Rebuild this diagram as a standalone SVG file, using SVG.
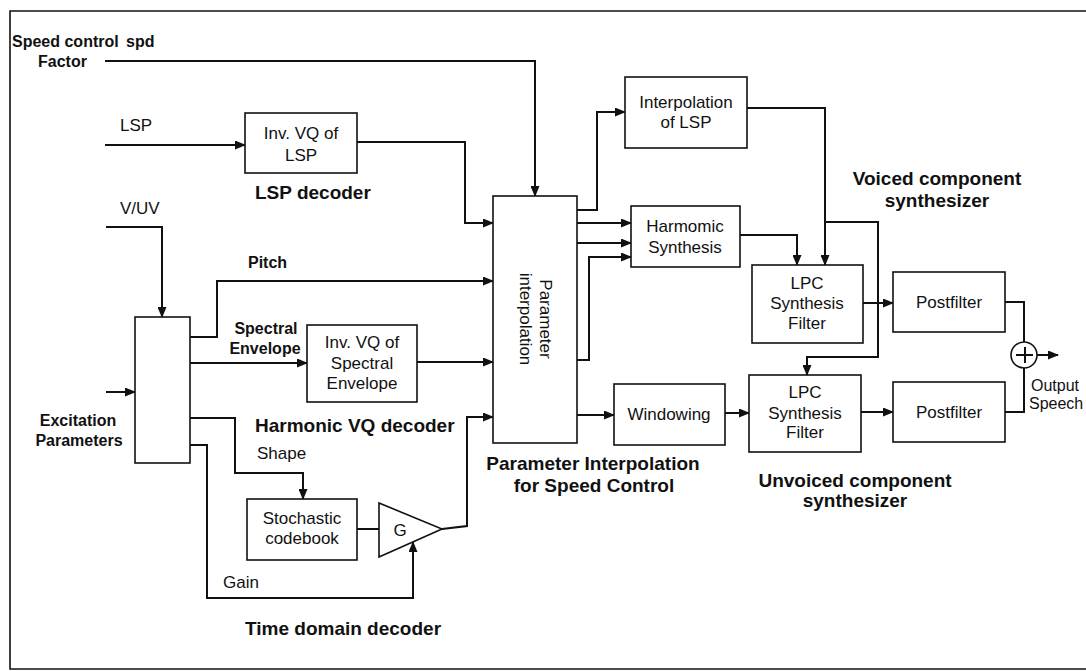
<svg xmlns="http://www.w3.org/2000/svg" width="1086" height="671" viewBox="0 0 1086 671">
<defs>
<style>
.box{fill:#fff;stroke:#111;stroke-width:1.6}
.ln{fill:none;stroke:#111;stroke-width:2}
.arr{fill:none;stroke:#111;stroke-width:2;marker-end:url(#ah)}
text{font-family:"Liberation Sans",Arial,sans-serif;fill:#111}
.t{font-size:17px}
.c{text-anchor:middle}
.lb{font-size:16px;font-weight:bold}
.ttl{font-size:19px;font-weight:bold}
</style>
<marker id="ah" markerUnits="userSpaceOnUse" markerWidth="11" markerHeight="9" refX="10" refY="4.5" orient="auto">
<path d="M0,0 L11,4.5 L0,9 z" fill="#111"/>
</marker>
</defs>
<rect x="0" y="0" width="1086" height="671" fill="#fff"/>
<path d="M1086,11 L10,11 L10,669 L1086,669" fill="none" stroke="#111" stroke-width="1.6"/>

<g id="connectors">
<polyline class="arr" points="105,61 535,61 535,196"/>
<polyline class="arr" points="105,145 245,145"/>
<polyline class="arr" points="106,227 162,227 162,317"/>
<polyline class="arr" points="106,392 135,392"/>
<polyline class="arr" points="357,142 465,142 465,223 493,223"/>
<polyline class="arr" points="190,337 217,337 217,281 493,281"/>
<polyline class="arr" points="190,363 307,363"/>
<polyline class="arr" points="417,362 493,362"/>
<polyline class="arr" points="190,418 235,418 235,473 303,473 303,499"/>
<polyline class="arr" points="190,445 207,445 207,598 413,598 413,542"/>
<polyline class="ln" points="357,529 379,529"/>
<polyline class="arr" points="442,529 467,526 467,417 493,417"/>
<polyline class="arr" points="577,210 597,210 597,112 625,112"/>
<polyline class="arr" points="577,223 631,223"/>
<polyline class="arr" points="577,243 631,243"/>
<polyline class="arr" points="577,360 589,360 589,257 631,257"/>
<polyline class="arr" points="577,415 614,415"/>
<polyline class="arr" points="725,413 749,413"/>
<polyline class="arr" points="747,108 825,108 825,265"/>
<polyline class="arr" points="740,235 797,235 797,265"/>
<polyline class="arr" points="825,222 878,222 878,357 807,357 807,375"/>
<polyline class="arr" points="863,303 893,303"/>
<polyline class="arr" points="861,412 893,412"/>
<polyline class="ln" points="1005,302 1024,302 1024,342"/>
<polyline class="ln" points="1005,412 1024,412 1024,368"/>
<polyline class="arr" points="1037,355 1058,355"/>
</g>

<g id="inv-vq-lsp">
<rect class="box" x="245" y="113" width="112" height="60"/>
<text class="t c" x="301" y="139">Inv. VQ of</text>
<text class="t c" x="301" y="161">LSP</text>
</g>
<g id="demux">
<rect class="box" x="135" y="317" width="55" height="146"/>
</g>
<g id="inv-vq-spectral">
<rect class="box" x="307" y="325" width="110" height="77"/>
<text class="t c" x="362" y="348">Inv. VQ of</text>
<text class="t c" x="362" y="369">Spectral</text>
<text class="t c" x="362" y="389">Envelope</text>
</g>
<g id="stochastic-codebook">
<rect class="box" x="247" y="499" width="110" height="61"/>
<text class="t c" x="302" y="524">Stochastic</text>
<text class="t c" x="302" y="544">codebook</text>
</g>
<g id="gain">
<polygon class="box" points="379,503 379,557 442,529"/>
<text class="t c" x="400" y="536">G</text>
</g>
<g id="param-interp">
<rect class="box" x="493" y="196" width="84" height="247"/>
<text class="t c" transform="translate(540,319) rotate(90)"><tspan x="0" y="0">Parameter</tspan><tspan x="0" y="20">interpolation</tspan></text>
</g>
<g id="interp-lsp">
<rect class="box" x="625" y="77" width="122" height="71"/>
<text class="t c" x="686" y="108">Interpolation</text>
<text class="t c" x="686" y="128">of LSP</text>
</g>
<g id="harmonic-synthesis">
<rect class="box" x="631" y="206" width="109" height="61"/>
<text class="t c" x="685" y="232">Harmomic</text>
<text class="t c" x="685" y="253">Synthesis</text>
</g>
<g id="windowing">
<rect class="box" x="614" y="384" width="111" height="61"/>
<text class="t c" x="669" y="420">Windowing</text>
</g>
<g id="lpc-voiced">
<rect class="box" x="752" y="265" width="111" height="78"/>
<text class="t c" x="807" y="289">LPC</text>
<text class="t c" x="807" y="309">Synthesis</text>
<text class="t c" x="807" y="329">Filter</text>
</g>
<g id="lpc-unvoiced">
<rect class="box" x="749" y="375" width="112" height="77"/>
<text class="t c" x="805" y="398">LPC</text>
<text class="t c" x="805" y="419">Synthesis</text>
<text class="t c" x="805" y="438">Filter</text>
</g>
<g id="postfilter-voiced">
<rect class="box" x="893" y="272" width="112" height="60"/>
<text class="t c" x="949" y="308">Postfilter</text>
</g>
<g id="postfilter-unvoiced">
<rect class="box" x="893" y="382" width="112" height="60"/>
<text class="t c" x="949" y="418">Postfilter</text>
</g>
<g id="sum">
<circle class="box" cx="1024" cy="355" r="13"/>
<path class="ln" d="M1016,355 H1033 M1025,347 V363" stroke-width="1.6"/>
</g>

<g id="labels">
<text class="lb" x="12" y="47">Speed control<tspan x="126">spd</tspan></text>
<text class="lb" x="38" y="67">Factor</text>
<text class="t" x="120" y="131">LSP</text>
<text class="t" x="120" y="214">V/UV</text>
<text class="lb" x="248" y="268">Pitch</text>
<text class="lb c" x="266" y="334">Spectral</text>
<text class="lb c" x="265" y="354">Envelope</text>
<text class="lb c" x="78" y="426">Excitation</text>
<text class="lb c" x="79" y="446">Parameters</text>
<text class="t" x="257" y="459">Shape</text>
<text class="t" x="223" y="588">Gain</text>
<text style="font-size:16px" x="1031" y="391">Output</text>
<text style="font-size:16px" x="1029" y="409">Speech</text>
<text class="ttl" x="255" y="199">LSP decoder</text>
<text class="ttl" x="255" y="432">Harmonic VQ decoder</text>
<text class="ttl" x="245" y="635">Time domain decoder</text>
<text class="ttl c" x="593" y="470">Parameter Interpolation</text>
<text class="ttl c" x="594" y="492">for Speed Control</text>
<text class="ttl c" x="937" y="185">Voiced component</text>
<text class="ttl c" x="937" y="207">synthesizer</text>
<text class="ttl c" x="855" y="487">Unvoiced component</text>
<text class="ttl c" x="855" y="507">synthesizer</text>
</g>
</svg>
